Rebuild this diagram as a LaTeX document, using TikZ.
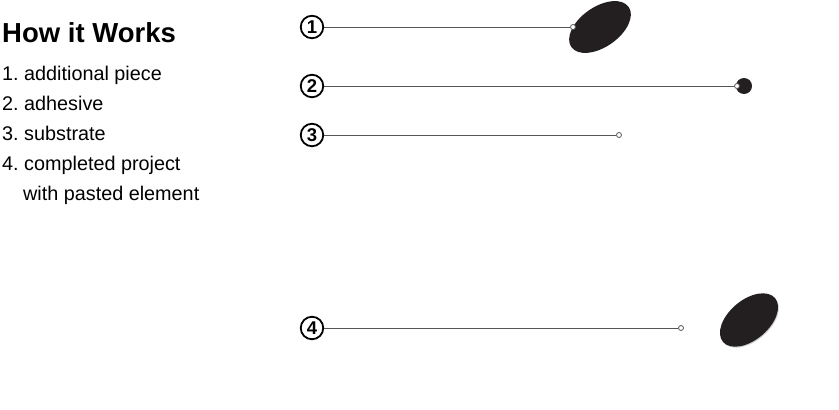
\documentclass[tikz,border=0pt]{standalone}
\usepackage{fontspec}
\setmainfont{Liberation Sans}
\frenchspacing
\begin{document}
\begin{tikzpicture}[x=1pt,y=-1pt,
  title/.style={anchor=base west, inner sep=0pt, font=\bfseries\fontsize{27.5}{30}\selectfont},
  item/.style={anchor=base west, inner sep=0pt, font=\fontsize{19.8}{23}\selectfont},
  numc/.style={circle, draw=black, line width=1.8pt, fill=white, minimum size=22.5pt, inner sep=0pt, font=\bfseries\fontsize{18.5}{20}\selectfont},
  leader/.style={draw=leadgray, line width=1pt},
  tipc/.style={circle, draw=leadgray, line width=0.8pt, fill=white, minimum size=5pt, inner sep=0pt},
  blob/.style={fill=blobblack},
  dotc/.style={circle, fill=blobblack, minimum size=16pt, inner sep=0pt}
]
\definecolor{leadgray}{HTML}{555555}
\definecolor{blobblack}{HTML}{231F20}
\useasboundingbox (0,0) rectangle (839,410);
\fill[white] (0,0) rectangle (839,410);

% legend
\node[title] (ttl) at (2,42) {How it Works};
\node[item] (i1) at (2,80) {1. additional piece};
\node[item] (i2) at (2,110) {2. adhesive};
\node[item] (i3) at (2,140) {3. substrate};
\node[item] (i4) at (2,170) {4. completed project};
\node[item] (i4b) at (23,200) {with pasted element};

% shapes
\fill[blob, rotate around={35:(600,27)}] (600,27) ellipse [x radius=35, y radius=20];
\fill[gray!35, rotate around={40:(749.8,321)}] (749.8,321) ellipse [x radius=34, y radius=20];
\fill[blob, rotate around={40:(749,320)}] (749,320) ellipse [x radius=34, y radius=20];
\node[dotc] (d2) at (744,86) {};

% number circles
\node[numc] (n1) at (312,27) {1};
\node[numc] (n2) at (312,86) {2};
\node[numc] (n3) at (312,135) {3};
\node[numc] (n4) at (312,328) {4};

% tips
\node[tipc] (e1) at (573,27) {};
\node[tipc] (e2) at (737,86) {};
\node[tipc] (e3) at (619,135) {};
\node[tipc] (e4) at (681,328) {};

% leaders
\draw[leader] (n1) -- (e1);
\draw[leader] (n2) -- (e2);
\draw[leader] (n3) -- (e3);
\draw[leader] (n4) -- (e4);
\end{tikzpicture}
\end{document}
